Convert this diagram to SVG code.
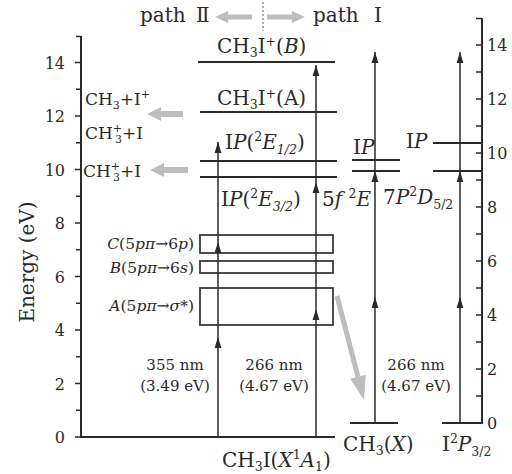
<svg xmlns="http://www.w3.org/2000/svg" width="512" height="474" viewBox="0 0 512 474">
<defs>
<style>
text { font-family: "DejaVu Serif", "Liberation Serif", serif; fill: #2a2a2a; }
.ax { font-size: 16px; }
.lvl { font-size: 20px; }
.nm { font-size: 15px; text-anchor: middle; }
.side { font-size: 17px; }
.band { font-size: 15.5px; text-anchor: end; }
.top { font-size: 20px; }
.it { font-style: italic; }
.axis { stroke: #2a2a2a; stroke-width: 2; fill: none; }
.tick { stroke: #2a2a2a; stroke-width: 1.6; }
.lv { stroke: #2a2a2a; stroke-width: 1.8; fill: none; }
.box { stroke: #3a3a3a; stroke-width: 1.8; fill: none; }
.arr { stroke: #2a2a2a; stroke-width: 1.5; marker-end: url(#ah); }
.gray { fill: #bdbdbd; }
.grayl { stroke: #bdbdbd; stroke-width: 5; fill: none; }
</style>
<marker id="ah" markerWidth="12" markerHeight="8" refX="11" refY="4" orient="auto" markerUnits="userSpaceOnUse">
<path d="M0,0.6 L11,4 L0,7.4 z" fill="#2a2a2a"/>
</marker>
</defs>

<g id="left-axis">
<path class="axis" d="M81,36 V437 H335"/>
<path class="tick" d="M75,437H81M76,410.25H81M75,383.5H81M76,356.75H81M75,330H81M76,303.25H81M75,276.5H81M76,249.75H81M75,223H81M76,196.25H81M75,169.5H81M76,142.75H81M75,116H81M76,89.25H81M75,62.5H81M76,36.5H81"/>
<g class="ax" text-anchor="end">
<text x="65" y="443">0</text>
<text x="65" y="389.5">2</text>
<text x="65" y="336">4</text>
<text x="65" y="282.5">6</text>
<text x="65" y="229">8</text>
<text x="65" y="175.5">10</text>
<text x="65" y="122">12</text>
<text x="65" y="68.5">14</text>
</g>
<text transform="translate(34,262) rotate(-90)" font-size="20" text-anchor="middle">Energy (eV)</text>
</g>

<g id="right-axis">
<path class="axis" d="M482,18 V423 H442"/>
<path class="tick" d="M476,396H482M476,369H482M476,342H482M476,315H482M476,288H482M476,261H482M476,234H482M476,207H482M476,180H482M476,153H482M476,126H482M476,99H482M476,72H482M476,45H482M476,18.5H482"/>
<g class="ax">
<text x="487" y="429">0</text>
<text x="487" y="375">2</text>
<text x="487" y="321">4</text>
<text x="487" y="267">6</text>
<text x="487" y="213">8</text>
<text x="487" y="159">10</text>
<text x="487" y="105">12</text>
<text x="487" y="51">14</text>
</g>
</g>

<g id="paths-header">
<text class="top" x="140" y="22">path <tspan x="196">Ⅱ</tspan></text>
<polygon class="gray" points="215,17 228,11 228,14.5 252,14.5 252,19.5 228,19.5 228,23"/>
<line x1="263" y1="2" x2="263" y2="31" stroke="#555" stroke-width="1" stroke-dasharray="2,2"/>
<polygon class="gray" points="305,17 292,11 292,14.5 267,14.5 267,19.5 292,19.5 292,23"/>
<text class="top" x="313" y="22">path <tspan x="374">Ⅰ</tspan></text>
</g>

<g id="state-B">
<line class="lv" x1="198" y1="62" x2="335" y2="62"/>
<text class="lvl" x="217" y="53">CH<tspan font-size="12.5" baseline-shift="-4">3</tspan>I<tspan font-size="12.5" baseline-shift="7">+</tspan>(<tspan class="it">B</tspan>)</text>
</g>
<g id="state-A">
<line class="lv" x1="200" y1="112" x2="337" y2="112"/>
<text class="lvl" x="217" y="105">CH<tspan font-size="12.5" baseline-shift="-4">3</tspan>I<tspan font-size="12.5" baseline-shift="7">+</tspan>(A)</text>
</g>
<g id="ip-12">
<line class="lv" x1="200" y1="161" x2="337" y2="161"/>
<text class="lvl" x="225" y="149">I<tspan class="it">P</tspan>(<tspan font-size="12.5" baseline-shift="8">2</tspan><tspan class="it">E</tspan><tspan font-size="12.5" baseline-shift="-5" class="it">1/2</tspan>)</text>
</g>
<g id="ip-32">
<line class="lv" x1="200" y1="177" x2="337" y2="177"/>
<text class="lvl" x="221" y="206">I<tspan class="it">P</tspan>(<tspan font-size="12.5" baseline-shift="8">2</tspan><tspan class="it">E</tspan><tspan font-size="12.5" baseline-shift="-5" class="it">3/2</tspan>)</text>
</g>
<g id="rydberg-5f">
<text class="lvl" x="322" y="206">5<tspan class="it">f</tspan> <tspan font-size="12.5" baseline-shift="8">2</tspan><tspan class="it">E</tspan></text>
</g>
<g id="ch3-ip">
<line class="lv" x1="352" y1="160" x2="400" y2="160"/>
<line class="lv" x1="352" y1="171" x2="400" y2="171"/>
<text class="lvl" x="353" y="154">I<tspan class="it">P</tspan></text>
</g>
<g id="rydberg-7p">
<text class="lvl" x="383" y="204">7<tspan class="it">P</tspan><tspan font-size="12.5" baseline-shift="8">2</tspan><tspan class="it">D</tspan><tspan font-size="12.5" baseline-shift="-5">5/2</tspan></text>
</g>
<g id="i-ip">
<line class="lv" x1="433" y1="143" x2="482" y2="143"/>
<line class="lv" x1="433" y1="171" x2="482" y2="171"/>
<text class="lvl" x="406" y="148">I<tspan class="it">P</tspan></text>
</g>

<g id="band-C">
<rect class="box" x="200" y="235" width="133" height="18"/>
<text class="band" x="194" y="249"><tspan class="it">C</tspan>(5<tspan class="it">pπ</tspan>→6<tspan class="it">p</tspan>)</text>
</g>
<g id="band-B">
<rect class="box" x="200" y="261" width="133" height="12"/>
<text class="band" x="194" y="273"><tspan class="it">B</tspan>(5<tspan class="it">pπ</tspan>→6<tspan class="it">s</tspan>)</text>
</g>
<g id="band-A">
<rect class="box" x="200" y="288" width="133" height="37"/>
<text class="band" x="194" y="311"><tspan class="it">A</tspan>(5<tspan class="it">pπ</tspan>→<tspan class="it">σ</tspan>*)</text>
</g>

<g id="ions">
<text class="side" x="85" y="105">CH<tspan font-size="11" baseline-shift="-4">3</tspan>+I<tspan font-size="11" baseline-shift="7">+</tspan></text>
<text class="side" x="85" y="139">CH<tspan font-size="11" baseline-shift="7">+</tspan><tspan dx="-7" font-size="11" baseline-shift="-4">3</tspan>+I</text>
<text class="side" x="83" y="177">CH<tspan font-size="11" baseline-shift="7">+</tspan><tspan dx="-7" font-size="11" baseline-shift="-4">3</tspan>+I</text>
</g>

<g id="ground">
<text class="lvl" x="222" y="467">CH<tspan font-size="12.5" baseline-shift="-4">3</tspan>I(<tspan class="it">X</tspan><tspan font-size="12.5" baseline-shift="8">1</tspan><tspan class="it">A</tspan><tspan font-size="12.5" baseline-shift="-4">1</tspan>)</text>
</g>
<g id="ch3-x">
<line class="lv" x1="350" y1="423" x2="398" y2="423"/>
<text class="lvl" x="343" y="451">CH<tspan font-size="12.5" baseline-shift="-4">3</tspan>(<tspan class="it">X</tspan>)</text>
</g>
<g id="i-p32">
<text class="lvl" x="442" y="451">I<tspan font-size="12.5" baseline-shift="8">2</tspan><tspan class="it">P</tspan><tspan font-size="12.5" baseline-shift="-5">3/2</tspan></text>
</g>

<g id="photon-labels">
<text class="nm" x="175" y="370">355 nm</text>
<text class="nm" x="175" y="391">(3.49 eV)</text>
<text class="nm" x="274" y="370">266 nm</text>
<text class="nm" x="274" y="391">(4.67 eV)</text>
<text class="nm" x="416" y="370">266 nm</text>
<text class="nm" x="416" y="391">(4.67 eV)</text>
</g>

<g id="connectors">
<line class="arr" x1="218" y1="437" x2="218" y2="337"/>
<line class="arr" x1="218" y1="337" x2="218" y2="242"/>
<line class="arr" x1="218" y1="242" x2="218" y2="142"/>
<line class="arr" x1="316" y1="437" x2="316" y2="309"/>
<line class="arr" x1="316" y1="309" x2="316" y2="182"/>
<line class="arr" x1="316" y1="182" x2="316" y2="65"/>
<line class="arr" x1="375" y1="423" x2="375" y2="297"/>
<line class="arr" x1="375" y1="297" x2="375" y2="171"/>
<line class="arr" x1="375" y1="171" x2="375" y2="52"/>
<line class="arr" x1="460" y1="423" x2="460" y2="297"/>
<line class="arr" x1="460" y1="297" x2="460" y2="171"/>
<line class="arr" x1="460" y1="171" x2="460" y2="52"/>
<polygon class="gray" points="147,114 161,107 161,111 183,111 183,117 161,117 161,121"/>
<polygon class="gray" points="150,170 164,163 164,167 188,167 188,173 164,173 164,177"/>
<line class="grayl" x1="337" y1="296" x2="358" y2="377"/>
<polygon class="gray" points="364,400 350.2,378.8 365.7,374.8"/>
</g>
</svg>
